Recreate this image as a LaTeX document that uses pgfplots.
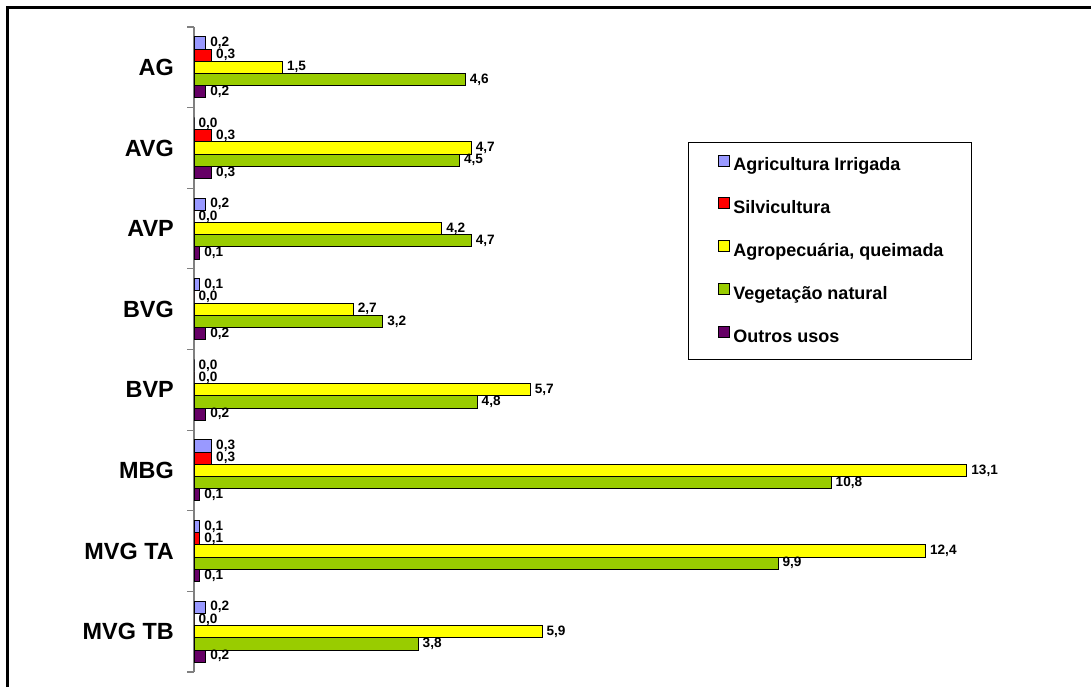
\documentclass[border=0pt]{standalone}
\usepackage{fontspec}
\setmainfont{Liberation Sans}
\usepackage{pgfplots}
\usepackage{pgfplotstable}
\pgfplotsset{compat=1.18}

\definecolor{cIrr}{HTML}{9999FF}
\definecolor{cSilv}{HTML}{FF0000}
\definecolor{cAgro}{HTML}{FFFF00}
\definecolor{cVeg}{HTML}{99CC00}
\definecolor{cOut}{HTML}{660066}
\definecolor{axgray}{HTML}{808080}

% area (%) by land use, one row per region
\pgfplotstableread{
pos irr  silv agro veg  outros
0   0.2  0.3  1.5  4.6  0.2
1   0.0  0.3  4.7  4.5  0.3
2   0.2  0.0  4.2  4.7  0.1
3   0.1  0.0  2.7  3.2  0.2
4   0.0  0.0  5.7  4.8  0.2
5   0.3  0.3  13.1 10.8 0.1
6   0.1  0.1  12.4 9.9  0.1
7   0.2  0.0  5.9  3.8  0.2
}\datatable

\begin{document}
\begin{tikzpicture}
\useasboundingbox (0,0) rectangle (545.5pt,343.5pt);
% outer frame (top and left edges)
\draw[line width=1.5pt] (3.75pt,0) -- (3.75pt,339.9pt) -- (545.5pt,339.9pt);
\begin{axis}[
  at={(97pt,7.5pt)}, anchor=south west,
  scale only axis, width=413pt, height=322.5pt,
  xmin=0, xmax=14, ymin=-0.5, ymax=7.5,
  y dir=reverse,
  axis x line=none,
  axis y line*=left,
  y axis line style={-, draw=axgray, line width=0.6pt},
  xtick=\empty,
  ytick={0,...,7},
  yticklabels={AG,AVG,AVP,BVG,BVP,MBG,MVG TA,MVG TB},
  yticklabel style={font=\fontsize{11.7}{14}\selectfont\bfseries, xshift=-6.6pt},
  minor ytick={-0.5,0.5,...,7.5},
  major tick length=0pt,
  minor tick length=3.5pt,
  tick align=outside,
  ytick pos=left,
  minor tick style={draw=axgray, line width=0.6pt},
  clip=false,
  xbar, bar width=6.1pt, bar shift=0pt,
  point meta=x,
  nodes near coords={\pgfmathprintnumber[fixed,fixed zerofill,precision=1,use comma,assume math mode=true]{\pgfplotspointmeta}},
  every node near coord/.append style={font=\fontsize{6.8}{8}\selectfont\bfseries, anchor=west, inner sep=2pt},
  every axis plot/.append style={draw=black, line width=0.5pt},
  legend image code/.code={\path (0pt,0pt) (8pt,0pt);
    \draw[#1, draw=black, line width=0.4pt] (1.5pt,0pt) rectangle (7pt,5.5pt);},
  legend cell align=left,
  legend style={at={(axis description cs:0.598,0.822)}, anchor=north west,
    draw=black, line width=0.5pt, inner xsep=13pt, inner ysep=6.1pt,
    row sep=11pt,
    font=\fontsize{9}{11}\selectfont\bfseries,
    nodes={text height=6pt, text depth=1.5pt, inner sep=1pt}},
]
\addplot[fill=cIrr]  table[x=irr,    y expr=\thisrow{pos}-0.3028] {\datatable};
\addlegendentry{Agricultura Irrigada}
\addplot[fill=cSilv] table[x=silv,   y expr=\thisrow{pos}-0.1514] {\datatable};
\addlegendentry{Silvicultura}
\addplot[fill=cAgro] table[x=agro,   y expr=\thisrow{pos}]        {\datatable};
\addlegendentry{Agropecuária, queimada}
\addplot[fill=cVeg]  table[x=veg,    y expr=\thisrow{pos}+0.1514] {\datatable};
\addlegendentry{Vegetação natural}
\addplot[fill=cOut]  table[x=outros, y expr=\thisrow{pos}+0.3028] {\datatable};
\addlegendentry{Outros usos}
\end{axis}
\end{tikzpicture}
\end{document}
